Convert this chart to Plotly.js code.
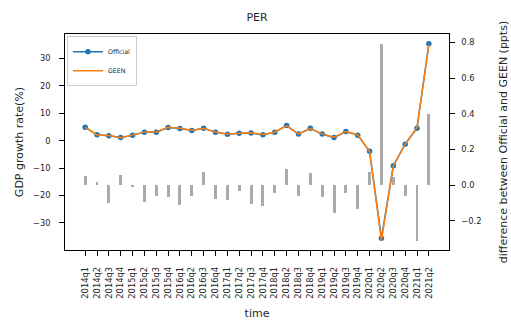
<!DOCTYPE html>
<html>
<head>
<meta charset="utf-8">
<script src="https://cdn.plot.ly/plotly-3.0.1.min.js"></script>
<style>html,body{margin:0;padding:0;background:#fff}#chart{width:511px;height:323px}</style>
</head>
<body>
<div id="chart"></div>
<script>
const quarters = ["2014q1","2014q2","2014q3","2014q4","2015q1","2015q2","2015q3","2015q4",
  "2016q1","2016q2","2016q3","2016q4","2017q1","2017q2","2017q3","2017q4",
  "2018q1","2018q2","2018q3","2018q4","2019q1","2019q2","2019q3","2019q4",
  "2020q1","2020q2","2020q3","2020q4","2021q1","2021q2"];
const official = [4.9, 2.1, 1.8, 1.1, 2.0, 3.1, 3.1, 4.8, 4.4, 3.7, 4.5, 3.1, 2.3, 2.7, 2.8,
  2.1, 3.1, 5.5, 2.4, 4.5, 2.4, 1.1, 3.3, 2.0, -3.9, -35.6, -9.2, -1.3, 4.5, 35.3];
const diff = [0.05, 0.017, -0.10, 0.056, -0.01, -0.094, -0.064, -0.069, -0.11, -0.06, 0.075,
  -0.077, -0.084, -0.034, -0.105, -0.116, -0.043, 0.088, -0.06, 0.067, -0.066, -0.155,
  -0.047, -0.137, 0.075, 0.79, 0.047, -0.062, -0.315, 0.40];
const geen = [4.85, 2.08, 1.9, 1.04, 2.01, 3.19, 3.16, 4.87, 4.51, 3.76, 4.43, 3.18, 2.38,
  2.73, 2.9, 2.22, 3.14, 5.41, 2.46, 4.43, 2.47, 1.26, 3.35, 2.14, -3.98, -36.39, -9.25,
  -1.24, 4.82, 34.9];

const tickFont = {family: "DejaVu Sans", size: 8.3, color: "#262626"};
const titleFont = {family: "DejaVu Sans", size: 11, color: "#262626"};
const data = [
  {type: "bar", x: quarters, y: diff, yaxis: "y", marker: {color: "#aaaaaa"},
   width: 0.25, showlegend: false, hoverinfo: "skip"},
  {type: "scatter", mode: "lines+markers", name: "Official", x: quarters, y: official,
   yaxis: "y2", line: {color: "#1f77b4", width: 1.5}, marker: {color: "#1f77b4", size: 5.5}},
  {type: "scatter", mode: "lines", name: "GEEN", x: quarters, y: geen,
   yaxis: "y2", line: {color: "#ff7f0e", width: 1.5}}
];
const layout = {
  width: 511, height: 323,
  margin: {l: 65, r: 62, t: 34, b: 73},
  paper_bgcolor: "#fff", plot_bgcolor: "#fff",
  font: {family: "DejaVu Sans", color: "#262626"},
  title: {text: "PER", font: titleFont, x: 0.503, xanchor: "center", y: 0.947, yanchor: "middle"},
  bargap: 0,
  xaxis: {type: "category", range: [-1.7, 30.7], tickangle: -90, tickfont: tickFont,
    ticks: "outside", ticklen: 4.5, tickwidth: 1, tickcolor: "#000", ticklabelstandoff: 8,
    showline: true, mirror: true, linecolor: "#000", linewidth: 1.2, showgrid: false,
    zeroline: false, title: {text: "time", font: titleFont, standoff: 11}},
  yaxis: {side: "right", range: [-0.365, 0.848], tickvals: [-0.2, 0, 0.2, 0.4, 0.6, 0.8],
    ticktext: ["\u22120.2", "0.0", "0.2", "0.4", "0.6", "0.8"], tickfont: tickFont,
    ticks: "outside", ticklen: 4.5, tickwidth: 1, tickcolor: "#000", ticklabelstandoff: 5,
    showline: true, linecolor: "#000", linewidth: 1.2, showgrid: false, zeroline: false,
    title: {text: "difference between Official and GEEN (ppts)", font: titleFont, standoff: 18}},
  yaxis2: {overlaying: "y", side: "left", range: [-39.9, 38.9],
    tickvals: [-30, -20, -10, 0, 10, 20, 30],
    ticktext: ["\u221230", "\u221220", "\u221210", "0", "10", "20", "30"], tickfont: tickFont,
    ticks: "outside", ticklen: 4.5, tickwidth: 1, tickcolor: "#000", ticklabelstandoff: 7,
    showline: true, linecolor: "#000", linewidth: 1.2, showgrid: false, zeroline: false,
    title: {text: "GDP growth rate(%)", font: titleFont, standoff: 7}},
  legend: {x: 0.005, y: 0.99, xanchor: "left", yanchor: "top", bgcolor: "rgba(255,255,255,0.8)",
    bordercolor: "#cccccc", borderwidth: 1, font: {size: 6.3, color: "#262626"},
    tracegroupgap: 0, itemwidth: 30}
};
Plotly.newPlot("chart", data, layout, {displayModeBar: false, staticPlot: true});
</script>
</body>
</html>
